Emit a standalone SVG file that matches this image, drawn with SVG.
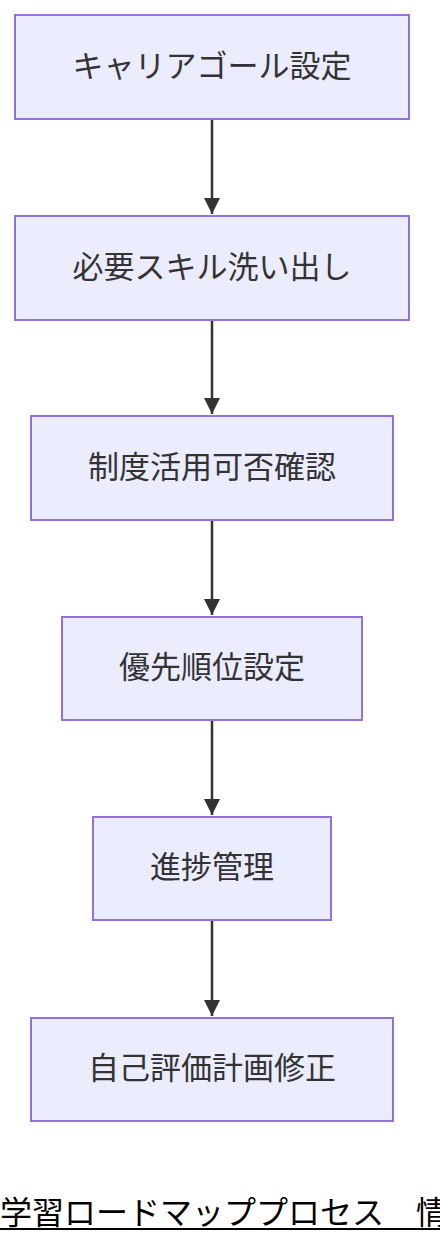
<svg xmlns="http://www.w3.org/2000/svg" width="440" height="1244" viewBox="0 0 440 1244">
<style>
.n rect{fill:#ECECFF;stroke:#9370DB;stroke-width:2}
.n text{font-family:"Noto Sans CJK JP","Noto Sans",sans-serif;font-size:31px;fill:#333;text-anchor:middle;dominant-baseline:central}
.e line{stroke:#333;stroke-width:2.5}
.t{font-family:"Noto Sans CJK JP","Noto Sans",sans-serif;font-size:32px;fill:#000}
</style>
<defs>
<marker id="a" markerUnits="userSpaceOnUse" markerWidth="18" markerHeight="16" refX="16" refY="8" orient="auto">
<path d="M0,0 L16,8 L0,16 Z" fill="#333"/>
</marker>
</defs>
<g class="e">
<line x1="212" y1="120" x2="212" y2="214" marker-end="url(#a)"/>
<line x1="212" y1="321" x2="212" y2="414" marker-end="url(#a)"/>
<line x1="212" y1="521" x2="212" y2="615" marker-end="url(#a)"/>
<line x1="212" y1="721" x2="212" y2="815" marker-end="url(#a)"/>
<line x1="212" y1="921" x2="212" y2="1016" marker-end="url(#a)"/>
</g>
<g id="n1" class="n"><rect x="15" y="15" width="394" height="104"/><text x="212" y="63">キャリアゴール設定</text></g>
<g id="n2" class="n"><rect x="15" y="216" width="394" height="104"/><text x="212" y="264">必要スキル洗い出し</text></g>
<g id="n3" class="n"><rect x="31" y="416" width="362" height="104"/><text x="212" y="464">制度活用可否確認</text></g>
<g id="n4" class="n"><rect x="62" y="617" width="300" height="103"/><text x="212" y="664">優先順位設定</text></g>
<g id="n5" class="n"><rect x="93" y="817" width="238" height="103"/><text x="212" y="864">進捗管理</text></g>
<g id="n6" class="n"><rect x="31" y="1018" width="362" height="103"/><text x="212" y="1065">自己評価計画修正</text></g>
<g id="title">
<text class="t" x="0" y="1224">学習ロードマッププロセス　情</text>
<line x1="0" y1="1229" x2="440" y2="1229" stroke="#000" stroke-width="2"/>
</g>
</svg>
